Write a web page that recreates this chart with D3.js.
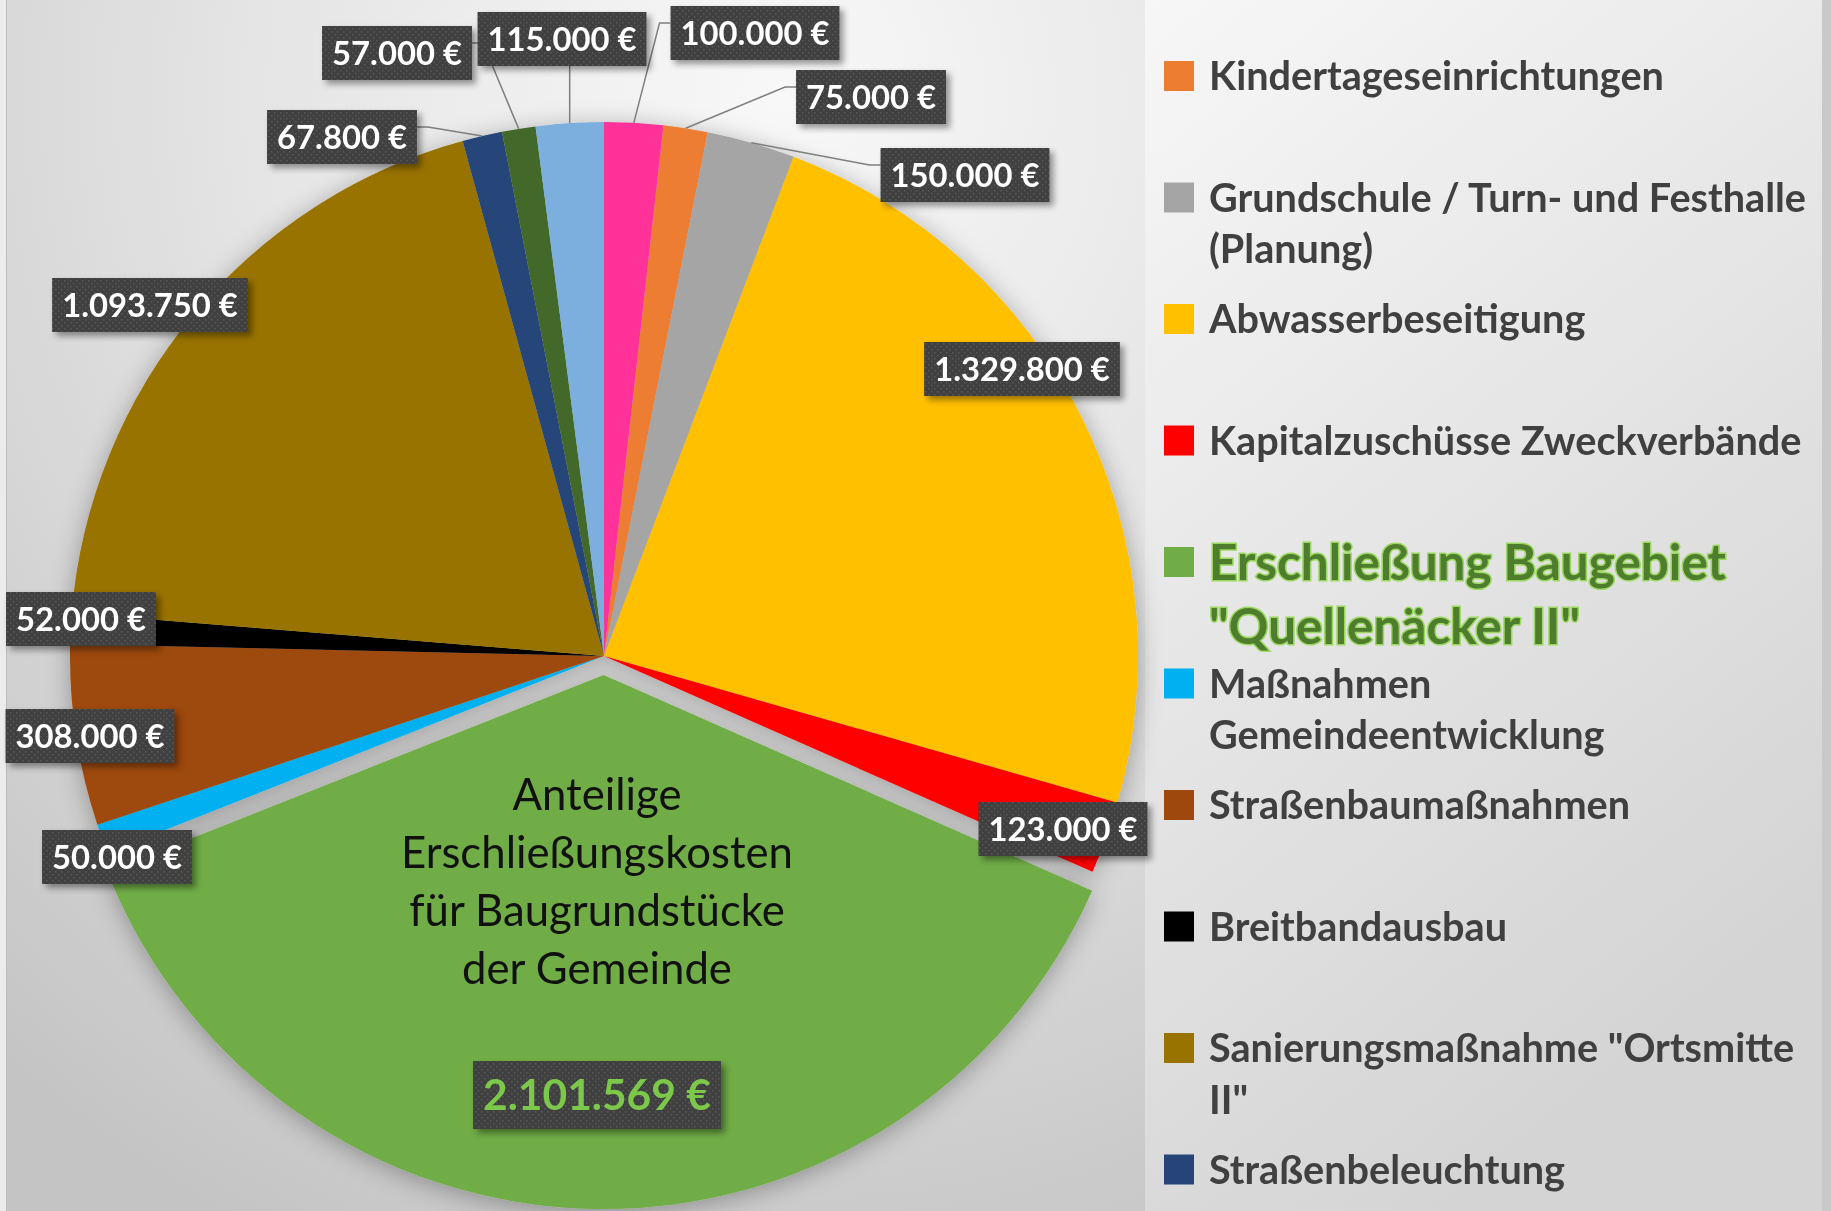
<!DOCTYPE html>
<html>
<head>
<meta charset="utf-8">
<script src="https://cdn.jsdelivr.net/npm/d3@7"></script>
<style>
  body { margin: 0; background: #fff; }
  svg { display: block; font-family: Lato, "Open Sans", sans-serif; }
</style>
</head>
<body>
<div id="chart"></div>
<script>
// legend order; the legend box cuts off after the 10th entry
var categories = [
  "Kindertageseinrichtungen",
  "Grundschule / Turn- und Festhalle (Planung)",
  "Abwasserbeseitigung",
  "Kapitalzuschüsse Zweckverbände",
  "Erschließung Baugebiet \"Quellenäcker II\"",
  "Maßnahmen Gemeindeentwicklung",
  "Straßenbaumaßnahmen",
  "Breitbandausbau",
  "Sanierungsmaßnahme \"Ortsmitte II\"",
  "Straßenbeleuchtung",
  null, null, null
];
var values = [75000, 150000, 1329800, 123000, 2101569, 50000, 308000, 52000, 1093750, 67800, 57000, 115000, 100000];
var colors = ["#ED7D31", "#A5A5A5", "#FFC000", "#FF0000", "#70AD47", "#00B0F0", "#9E480E",
              "#000000", "#997300", "#264478", "#43682B", "#7CAFDD", "#FF3399"];
var greenNote = ["Anteilige", "Erschließungskosten", "für Baugrundstücke", "der Gemeinde"];

var highlight = 4;   // exploded slice / big legend entry

// manual label placement (like the original workbook)
var labelCenters = [[871, 97], [965, 175], [1022, 369], [1063, 829], [597, 1095], [117, 857], [90, 736],
                    [81, 619], [150, 305], [342, 137], [397, 53], [562, 39], [755, 33]];

var svgWidth = 1831, svgHeight = 1211;
var cx = 604, cy = 656, radius = 534, explode = 19;
var firstAngle = 6.4 * Math.PI / 180;

var de = d3.formatLocale({decimal: ",", thousands: ".", grouping: [3], currency: ["", " €"]});
var money = de.format("$,.0f");

var svg = d3.select("#chart").append("svg")
  .attr("width", svgWidth)
  .attr("height", svgHeight);

var defs = svg.append("defs");

var bg = defs.append("radialGradient").attr("id", "bg")
  .attr("cx", 0.68).attr("cy", 0.08).attr("r", 1.05);
bg.append("stop").attr("offset", 0).attr("stop-color", "#f8f8f8");
bg.append("stop").attr("offset", 0.45).attr("stop-color", "#e4e4e4");
bg.append("stop").attr("offset", 1).attr("stop-color", "#c4c4c4");

var lg = defs.append("linearGradient").attr("id", "legendBg")
  .attr("x1", 0).attr("y1", 0).attr("x2", 0.45).attr("y2", 1);
lg.append("stop").attr("offset", 0).attr("stop-color", "#f7f7f7");
lg.append("stop").attr("offset", 1).attr("stop-color", "#d4d4d4");

var pat = defs.append("pattern").attr("id", "dots")
  .attr("width", 6).attr("height", 6).attr("patternUnits", "userSpaceOnUse");
pat.append("rect").attr("width", 6).attr("height", 6).attr("fill", "#404040");
pat.append("rect").attr("x", 1).attr("y", 1).attr("width", 1.5).attr("height", 1.5).attr("fill", "#585858");
pat.append("rect").attr("x", 4).attr("y", 4).attr("width", 1.5).attr("height", 1.5).attr("fill", "#585858");

var pieShadow = defs.append("filter").attr("id", "pieShadow")
  .attr("x", -0.2).attr("y", -0.2).attr("width", 1.4).attr("height", 1.4);
pieShadow.append("feDropShadow").attr("dx", 0).attr("dy", 4).attr("stdDeviation", 12)
  .attr("flood-color", "#000").attr("flood-opacity", 0.3);

var boxShadow = defs.append("filter").attr("id", "boxShadow")
  .attr("x", -0.2).attr("y", -0.3).attr("width", 1.4).attr("height", 1.6);
boxShadow.append("feDropShadow").attr("dx", 4).attr("dy", 4).attr("stdDeviation", 3)
  .attr("flood-color", "#000").attr("flood-opacity", 0.4);

// backgrounds
svg.append("rect").attr("width", 1145).attr("height", svgHeight).attr("fill", "url(#bg)");
svg.append("rect").attr("width", 6).attr("height", svgHeight).attr("fill", "#ececec");
svg.append("line").attr("x1", 6.5).attr("x2", 6.5).attr("y1", 0).attr("y2", svgHeight)
  .attr("stroke", "#bdbdbd").attr("stroke-width", 1);
svg.append("rect").attr("x", 1145).attr("width", 677).attr("height", svgHeight).attr("fill", "url(#legendBg)");
svg.append("rect").attr("x", 1822).attr("width", 9).attr("height", svgHeight).attr("fill", "#c9c9c9");

// measure helper: font size so that txt gets the given width
function fitSize(txt, weight, target) {
  var t = svg.append("text").attr("font-size", 100).attr("font-weight", weight).text(txt);
  var w = t.node().getComputedTextLength();
  t.remove();
  return 100 * target / w;
}
function textWidth(txt, weight, size) {
  var t = svg.append("text").attr("font-size", size).attr("font-weight", weight).text(txt);
  var w = t.node().getComputedTextLength();
  t.remove();
  return w;
}

// pie
var data = values.map(function(v, i) {
  return {name: categories[i], value: v, color: colors[i], label: money(v)};
});

var pie = d3.pie().sort(null).value(d => d.value)
  .startAngle(firstAngle).endAngle(firstAngle + 2 * Math.PI);
var arcs = pie(data);
var arc = d3.arc().innerRadius(0).outerRadius(radius);

function shift(d) {
  if (d.index !== highlight) return [0, 0];
  var a = (d.startAngle + d.endAngle) / 2;
  return [explode * Math.sin(a), -explode * Math.cos(a)];
}

var pieGroup = svg.append("g")
  .attr("transform", `translate(${cx}, ${cy})`)
  .attr("filter", "url(#pieShadow)");

pieGroup.selectAll("path")
  .data(arcs)
  .enter()
  .append("path")
  .attr("d", arc)
  .attr("fill", d => d.data.color)
  .attr("transform", d => `translate(${shift(d)})`);

// note inside the green slice
var noteSize = fitSize("Erschließungskosten", 400, 392);
var hiLabel = labelCenters[highlight];
svg.append("g").selectAll("text")
  .data(greenNote)
  .enter()
  .append("text")
  .attr("x", hiLabel[0])
  .attr("y", (d, i) => 794 + i * 58 + noteSize * 0.36)
  .attr("text-anchor", "middle")
  .attr("font-size", noteSize)
  .attr("fill", "#111")
  .text(d => d);

// data labels
var labelSize = fitSize("150.000 €", 700, 149);
var bigLabelSize = fitSize("2.101.569 €", 700, 228);

var boxes = arcs.map(function(d, i) {
  var size = i === highlight ? bigLabelSize : labelSize;
  var w = textWidth(d.data.label, 700, size) + 20;
  var h = i === highlight ? 68 : 54;
  var c = labelCenters[i];
  var a = (d.startAngle + d.endAngle) / 2;
  var s = shift(d);
  return {
    d: d, size: size, w: w, h: h,
    x0: c[0] - w / 2, x1: c[0] + w / 2, y0: c[1] - h / 2, y1: c[1] + h / 2, cx: c[0], cy: c[1],
    px: cx + s[0] + radius * Math.sin(a), py: cy + s[1] - radius * Math.cos(a)
  };
});

// leader lines only for labels pulled out of the pie, away from their slice
function outside(b) {
  var dx = Math.max(b.x0 - b.px, 0, b.px - b.x1);
  var dy = Math.max(b.y0 - b.py, 0, b.py - b.y1);
  return Math.max(dx, dy);
}
var leaders = boxes.filter(b => Math.hypot(b.cx - cx, b.cy - cy) > radius && outside(b) > 30);

svg.append("g").selectAll("path")
  .data(leaders)
  .enter()
  .append("path")
  .attr("fill", "none")
  .attr("stroke", "#7f7f7f")
  .attr("stroke-width", 1.5)
  .attr("d", function(b) {
    if (b.px >= b.x0 && b.px <= b.x1) {
      return d3.line()([[b.px, b.py], [b.px, b.y1]]);
    }
    var ay = b.cy - 10;
    var side = b.px < b.x0 ? b.x0 : b.x1;
    var elbow = b.px < b.x0 ? side - 11 : side + 11;
    return d3.line()([[b.px, b.py], [elbow, ay], [side, ay]]);
  });

var labelGroup = svg.append("g").selectAll("g")
  .data(boxes)
  .enter()
  .append("g");

labelGroup.append("rect")
  .attr("x", b => b.x0)
  .attr("y", b => b.y0)
  .attr("width", b => b.w)
  .attr("height", b => b.h)
  .attr("fill", "url(#dots)")
  .attr("filter", "url(#boxShadow)");

labelGroup.append("text")
  .attr("x", b => b.cx)
  .attr("y", b => b.cy + b.size * 0.36)
  .attr("text-anchor", "middle")
  .attr("font-size", b => b.size)
  .attr("font-weight", 700)
  .attr("fill", b => b.d.index === highlight ? "#7cc84a" : "#fff")
  .text(b => b.d.data.label);

// legend
var legendSize = fitSize("Kindertageseinrichtungen", 700, 455);
var legendBigSize = fitSize("Erschließung Baugebiet", 700, 517);
var maxLine = 615;

function wrap(txt, size) {
  var words = txt.split(" "), lines = [], cur = "";
  words.forEach(function(w) {
    var test = cur ? cur + " " + w : w;
    if (cur && textWidth(test, 700, size) > maxLine) {
      lines.push(cur);
      cur = w;
    } else {
      cur = test;
    }
  });
  lines.push(cur);
  return lines;
}

var legendItems = data.filter(d => d.name !== null);

var legend = svg.append("g").selectAll("g")
  .data(legendItems)
  .enter()
  .append("g")
  .attr("transform", (d, i) => `translate(1164, ${76 + i * 121.5})`);

legend.append("rect")
  .attr("x", 0)
  .attr("y", -15)
  .attr("width", 30)
  .attr("height", 30)
  .attr("fill", d => d.color);

legend.each(function(d, i) {
  var big = i === highlight;
  var size = big ? legendBigSize : legendSize;
  var step = big ? 64 : 51.5;
  var t = d3.select(this).append("text")
    .attr("font-size", size)
    .attr("font-weight", 700)
    .attr("fill", big ? "#4f7d2e" : "#404040");
  if (big) {
    t.attr("stroke", "#9bd85f").attr("stroke-width", 3).attr("paint-order", "stroke");
  }
  wrap(d.name, size).forEach(function(line, k) {
    t.append("tspan")
      .attr("x", 45)
      .attr("y", size * 0.36 + k * step)
      .text(line);
  });
});
</script>
</body>
</html>
